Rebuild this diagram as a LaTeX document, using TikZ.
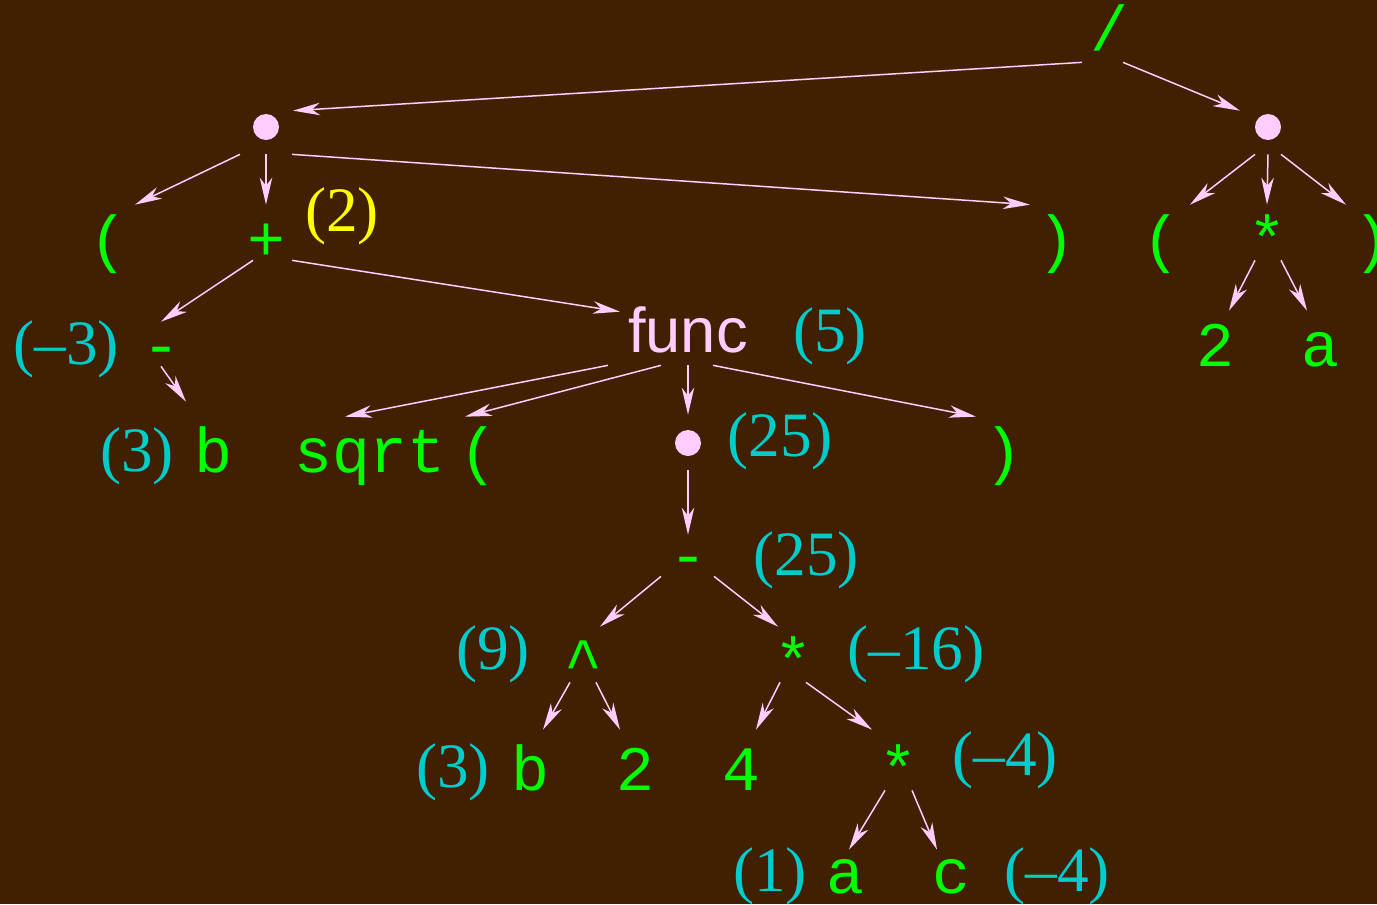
\documentclass[tikz,border=0pt]{standalone}
\usepackage{fontspec}
\setmainfont{Liberation Serif}
\newfontfamily\gfont{Liberation Mono}
\newfontfamily\ffont{Liberation Sans}
\usetikzlibrary{arrows.meta,calc}
\definecolor{TreeBg}{HTML}{402000}
\definecolor{TokGreen}{HTML}{00FF00}
\definecolor{ValCyan}{HTML}{00CCCC}
\definecolor{ValYellow}{HTML}{FFFF00}
\definecolor{EdgePink}{HTML}{FFCCFF}
\newcommand\bigsz{\fontsize{36pt}{40pt}\selectfont}

\begin{document}
\begin{tikzpicture}[x=0.02cm,y=-0.02cm,
  tok/.style={font=\gfont\bigsz,text=TokGreen,inner sep=0pt,text height=1.1cm,text depth=0pt,anchor=base},
  val/.style={font=\bigsz,text=ValCyan,inner sep=0pt,anchor=base},
  dotn/.style={tok,text height=0.32cm,text depth=0.54cm},
  edge/.style={-{Stealth[length=0.54cm,width=0.25cm,inset=0.16cm]},draw=EdgePink,line width=0.85pt}]
  \fill[TreeBg] (0,0) rectangle (1377,904);
  \useasboundingbox (0,0) rectangle (1377,904);
  \node[tok,text depth=0.24cm] (sl) at (1109,50) {/};
  \node[dotn] (d1) at (266,127) {};
  \node[dotn] (d2) at (1268,127) {};
  \node[tok] (lpA) at (108,260) {(};
  \node[tok] (plus) at (266,260) {+};
  \node[val,text=ValYellow] (vplus) at (342,231) {(2)};
  \node[tok] (rpA) at (1056,260) {)};
  \node[tok] (lpB) at (1161,260) {(};
  \node[tok] (mulB) at (1267,260) {*};
  \node[tok] (rpB) at (1372,260) {)};
  \node[tok,text height=0.88cm] (mi) at (161,366) {-};
  \node[val] (vmi) at (66,364) {(–3)};
  \node[tok,font=\ffont\bigsz,text=EdgePink,text height=0.8cm,text depth=0.26cm] (fn) at (688,352) {func};
  \node[val] (vfn) at (830,351) {(5)};
  \node[tok] (two) at (1215,366) {2};
  \node[tok] (aB) at (1320,366) {a};
  \node[tok,text height=1.4cm] (bA) at (213,472) {b};
  \node[val] (vbA) at (137,471) {(3)};
  \node[tok] (sq) at (370,472) {sqrt};
  \node[tok] (lpC) at (478,472) {(};
  \node[dotn,text height=0.56cm] (d3) at (688,443) {};
  \node[val] (vd3) at (780,456) {(25)};
  \node[tok] (rpC) at (1003,472) {)};
  \node[tok,text height=0.82cm] (mi2) at (688,576) {-};
  \node[val] (vmi2) at (806,575) {(25)};
  \node[tok,text depth=-0.28cm] (cf) at (583,682) {\string^};
  \node[val] (vcf) at (493,669) {(9)};
  \node[tok] (mulC) at (793,682) {*};
  \node[val] (vmulC) at (916,669) {(–16)};
  \node[tok,text height=1.2cm] (bB) at (530,790) {b};
  \node[val] (vbB) at (453,787) {(3)};
  \node[tok,text height=1.2cm] (twoB) at (635,790) {2};
  \node[tok,text height=1.2cm] (four) at (741,790) {4};
  \node[tok,text height=1.2cm] (mulD) at (898,790) {*};
  \node[val] (vmulD) at (1005,775) {(–4)};
  \node[tok,text height=0.86cm] (aC) at (845,893) {a};
  \node[val] (vaC) at (770,891) {(1)};
  \node[tok,text height=0.86cm] (cC) at (951,893) {c};
  \node[val] (vcC) at (1057,891) {(–4)};
  \foreach \d in {d1,d2,d3}{\fill[EdgePink] (\d.base) circle (0.26cm);}
  \foreach \a/\da/\b/\db in {sl/-27/d1/27,sl/14/d2/-28,d1/-26/lpA/27,d1/0/plus/0,d1/26/rpA/-26,
    d2/-13/lpB/29,d2/0/mulB/0,d2/13/rpB/-26,plus/-13/mi/0,plus/26/fn/-68,mulB/-12/two/14,mulB/14/aB/-13,
    mi/0/bA/-27,fn/-80/sq/-25,fn/-27/lpC/-13,fn/0/d3/0,fn/25/rpC/-27,d3/0/mi2/0,mi2/-27/cf/17,mi2/26/mulC/-15,
    cf/-13/bB/13,cf/13/twoB/-15,mulC/-13/four/15,mulC/13/mulD/-26,mulD/-13/aC/4,mulD/14/cC/-14}
    {\draw[edge] ($(\a.south)+(\da,0)$) -- ($(\b.north)+(\db,0)$);}
\end{tikzpicture}
\end{document}
